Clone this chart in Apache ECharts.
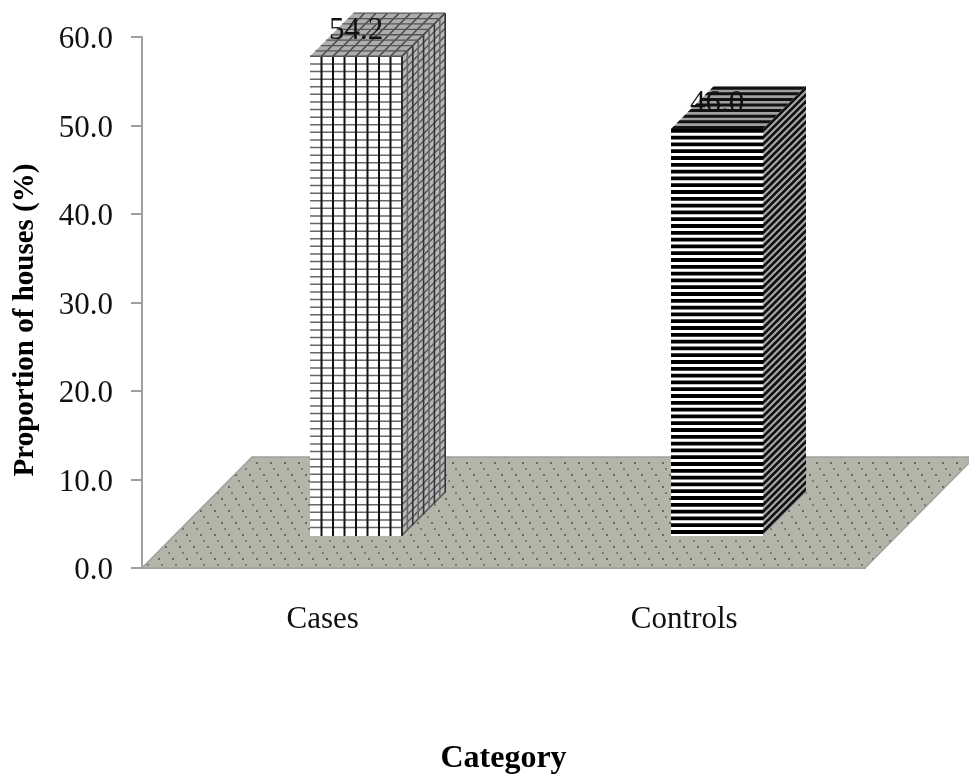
<!DOCTYPE html>
<html>
<head>
<meta charset="utf-8">
<style>html,body{margin:0;padding:0;background:#fff}#chart{width:969px;height:779px}</style>
<script src="https://cdn.jsdelivr.net/npm/echarts@6/dist/echarts.min.js"></script>
</head>
<body>
<div id="chart"></div>
<script>
const categories = ['Cases', 'Controls'];
const values = [54.2, 46.0];
const valueLabels = ['54.2', '46.0'];
const yTicks = [0, 10, 20, 30, 40, 50, 60];

const FONT = '"Liberation Serif", "Times New Roman", serif';
const GREY = '#a0a0a0';
const FLOOR_DEPTH = 110;   // floor runs back and to the right
const BAR_SHIFT = 33;      // bars stand this far into the floor
const BAR_DEPTH = 43;
const BAR_WIDTH = 92;

// dotted texture of the floor
function floorPattern() {
  const c = document.createElement('canvas');
  c.width = 14;
  c.height = 24;
  const ctx = c.getContext('2d');
  ctx.fillStyle = '#b4b4a9';
  ctx.fillRect(0, 0, 14, 24);
  for (let i = 0; i < 4; i++) {
    ctx.fillStyle = i % 2 ? '#6a6a62' : '#7d7d74';
    ctx.fillRect(Math.round(i * 3.5), i * 6, 2, 2);
  }
  return {image: c, repeat: 'repeat'};
}

function poly(points, fill) {
  return {type: 'polygon', shape: {points}, style: {fill}, silent: true};
}

function line(x1, y1, x2, y2, stroke, lineWidth) {
  return {type: 'line', shape: {x1, y1, x2, y2}, style: {stroke, lineWidth}, silent: true};
}

// white front with black verticals, grey side and top with the grid sheared on them
function gridBar(x0, x1, top, bottom) {
  const d = BAR_DEPTH;
  const out = [
    poly([[x0, top], [x1, top], [x1, bottom], [x0, bottom]], '#fff'),
    poly([[x1, top], [x1 + d, top - d], [x1 + d, bottom - d], [x1, bottom]], '#b8b8b8'),
    poly([[x0, top], [x0 + d, top - d], [x1 + d, top - d], [x1, top]], '#adadad')
  ];
  for (let y = top; y < bottom - 2; y += 7.6) {
    out.push(line(x0, y, x1, y, '#666', 1.5));
  }
  for (let y = top; y < bottom; y += 7.6) {
    out.push(line(x1, y, x1 + d, y - d, '#555', 1.5));
  }
  for (let i = 1; i <= 8; i++) {
    const x = x0 + i * 11.5;
    out.push(line(x, top, x, bottom, '#111', 2));
    out.push(line(x, top, x + d, top - d, '#444', 1.5));
  }
  for (let i = 0; i <= 8; i++) {
    const u = i * 5.4;
    out.push(line(x1 + u, top - u, x1 + u, bottom - u, i % 2 ? '#666' : '#333', 1.6));
    out.push(line(x0 + u, top - u, x1 + u, top - u, '#555', 1.3));
  }
  return out;
}

// black and white stripes on the front, black and grey on side and top
function stripeBar(x0, x1, top, bottom) {
  const d = BAR_DEPTH;
  const out = [
    poly([[x0, top], [x1, top], [x1, bottom], [x0, bottom]], '#fff'),
    poly([[x1, top], [x1 + d, top - d], [x1 + d, bottom - d], [x1, bottom]], '#a8a8a8'),
    poly([[x0, top], [x0 + d, top - d], [x1 + d, top - d], [x1, top]], '#a0a0a0')
  ];
  for (let y = top; y < bottom - 4; y += 6.8) {
    out.push(poly([[x0, y], [x1, y], [x1, y + 3.8], [x0, y + 3.8]], '#000'));
  }
  for (let y = top; y < bottom - 3; y += 6.8) {
    const h = Math.min(3.8, bottom - y);
    out.push(poly([[x1, y], [x1 + d, y - d], [x1 + d, y - d + h], [x1, y + h]], '#111'));
  }
  for (let u = 0; u < d - 1; u += 5.6) {
    const h = Math.min(3, d - u);
    out.push(poly([[x0 + u, top - u], [x1 + u, top - u], [x1 + u + h, top - u - h], [x0 + u + h, top - u - h]], '#111'));
  }
  return out;
}

const chart = echarts.init(document.getElementById('chart'), null, {renderer: 'canvas'});
const floorFill = floorPattern();

chart.setOption({
  animation: false,
  backgroundColor: '#fff',
  grid: {left: 142, top: 37, width: 723, height: 531, outerBoundsMode: 'none'},
  xAxis: {
    type: 'category',
    data: categories,
    name: 'Category',
    nameLocation: 'middle',
    nameGap: 175,
    nameTextStyle: {fontFamily: FONT, fontSize: 32, fontWeight: 'bold', color: '#000'},
    axisLine: {lineStyle: {color: GREY, width: 2}},
    axisTick: {show: false},
    axisLabel: {fontFamily: FONT, fontSize: 31, color: '#111', margin: 36}
  },
  yAxis: {
    type: 'value',
    min: 0,
    max: 60,
    interval: 10,
    name: 'Proportion of houses (%)',
    nameLocation: 'middle',
    nameGap: 102,
    nameTextStyle: {fontFamily: FONT, fontSize: 29, fontWeight: 'bold', color: '#000', padding: [0, 35, 0, 0]},
    splitLine: {show: false},
    axisLine: {show: true, lineStyle: {color: GREY, width: 2}},
    axisTick: {show: true, length: 11, lineStyle: {color: GREY, width: 2}},
    axisLabel: {
      fontFamily: FONT,
      fontSize: 31,
      color: '#111',
      margin: 29,
      verticalAlign: 'top',
      lineHeight: 6,
      formatter: v => yTicks.includes(v) ? v.toFixed(1) : ''
    }
  },
  series: [
    {
      name: 'floor',
      type: 'custom',
      coordinateSystem: 'cartesian2d',
      silent: true,
      z: 1,
      data: [[0, 0]],
      renderItem: (params, api) => {
        const sys = params.coordSys;
        const base = api.coord([0, 0])[1];
        return {
          type: 'polygon',
          shape: {points: [
            [sys.x, base],
            [sys.x + FLOOR_DEPTH, base - FLOOR_DEPTH - 1],
            [sys.x + sys.width + FLOOR_DEPTH, base - FLOOR_DEPTH - 1],
            [sys.x + sys.width, base]
          ]},
          style: {fill: floorFill, stroke: GREY, lineWidth: 1.5},
          silent: true
        };
      }
    },
    {
      name: 'Proportion of houses',
      type: 'custom',
      coordinateSystem: 'cartesian2d',
      silent: true,
      z: 3,
      data: values.map((v, i) => [i, v]),
      renderItem: (params, api) => {
        const i = api.value(0);
        const top = api.coord([i, api.value(1)]);
        const base = api.coord([i, 0]);
        const x0 = Math.round(top[0] + BAR_SHIFT - BAR_WIDTH / 2);
        const x1 = x0 + BAR_WIDTH;
        const yTop = top[1] - 32;
        const yBottom = base[1] - 32;
        const faces = i === 0 ? gridBar(x0, x1, yTop, yBottom) : stripeBar(x0, x1, yTop, yBottom);
        faces.push({
          type: 'text',
          silent: true,
          style: {
            text: valueLabels[i],
            x: (x0 + x1) / 2,
            y: yTop - 25,
            align: 'center',
            verticalAlign: 'middle',
            fontFamily: FONT,
            fontSize: 31,
            fill: '#111'
          }
        });
        return {type: 'group', children: faces};
      }
    }
  ]
});
</script>
</body>
</html>
